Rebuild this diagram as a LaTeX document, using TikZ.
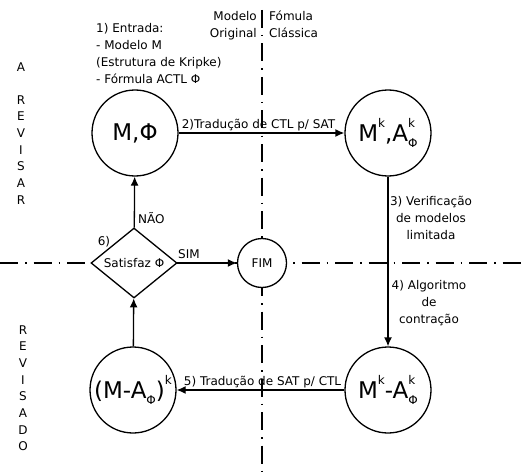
\documentclass[tikz,border=0pt]{standalone}
\usepackage{fontspec}
\setmainfont{DejaVu Sans}
\usetikzlibrary{arrows.meta,shapes.geometric}
\newcommand\smalltxt{\fontsize{12}{17}\selectfont}
\newcommand\bigtxt{\fontsize{23}{26}\selectfont}
\newcommand\ssc[1]{{\fontsize{12}{12}\selectfont #1}}
\newcommand\supsub[2]{\makebox[0pt][l]{\raisebox{0.6em}{\ssc{#1}}}\raisebox{-0.3em}{\ssc{#2}}}
\begin{document}
\begin{tikzpicture}[x=1pt,y=-1pt,
  state/.style={circle,draw,line width=1.3pt,minimum size=86pt,inner sep=0pt,font=\bigtxt},
  lbl/.style={font=\smalltxt,inner sep=1pt},
  flow/.style={line width=1.3pt,-{Latex[length=9pt,width=8pt]}},
  axis/.style={line width=1.1pt,dash pattern=on 18pt off 7pt on 1.5pt off 7pt}]
\useasboundingbox (0,0) rectangle (527,476);
% axes
\coordinate (hl) at (0,263);
\coordinate (hr) at (527,263);
\coordinate (vt) at (262,10);
\coordinate (vb) at (262,472);
\draw[axis] (hl) -- (hr);
\draw[axis] (vt) -- (vb);
% states
\node[state] (mphi) at (135,133) {M,Φ};
\node[state] (mkak) at (388,133) {M\raisebox{0.6em}{\ssc{k}},A\supsub{k}{Φ}};
\node[state] (mkmak) at (388,390) {M\raisebox{0.6em}{\ssc{k}}-A\supsub{k}{Φ}};
\node[state] (mma) at (133,390) {(M-A\raisebox{-0.3em}{\ssc{Φ}})\raisebox{0.6em}{\ssc{k}}};
\node[diamond,draw,line width=1.3pt,aspect=1.2,minimum width=86pt,minimum height=70pt,inner sep=0pt,font=\smalltxt,fill=white] (sat) at (134,263) {Satisfaz Φ};
\node[circle,draw,line width=1.3pt,minimum size=49pt,inner sep=0pt,font=\smalltxt,fill=white] (fim) at (262,263) {FIM};
% arrows
\draw[flow] (mphi) -- (mkak);
\node[lbl,anchor=south west] (l2) at ([xshift=2pt,yshift=1pt]mphi.east) {2)Tradução de CTL p/ SAT};
\draw[flow] (mkak) -- (mkmak);
\draw[flow] (mkmak) -- (mma);
\node[lbl,anchor=south east] (l5) at ([xshift=-2pt,yshift=1pt]mkmak.west) {5) Tradução de SAT p/ CTL};
\draw[flow] (mma) -- (sat);
\draw[flow] (sat) -- (mphi);
\node[lbl,anchor=west] (nao) at (137,218) {NÃO};
\draw[flow] (sat) -- (fim);
\node[lbl] (sim) at (189,254) {SIM};
% labels
\node[lbl,align=center] (l3) at (431,218) {3) Verificação\\de modelos\\limitada};
\node[lbl,align=center] (l4) at (429,303) {4) Algoritmo\\de\\contração};
\node[lbl] (l6) at (104,242) {6)};
\node[lbl,align=left,anchor=north west] (l1) at (95,22) {1) Entrada:\\- Modelo M\\(Estrutura de Kripke)\\- Fórmula ACTL Φ};
\node[lbl,align=right,anchor=north east] (mo) at (258,10) {Modelo\\Original};
\node[lbl,align=left,anchor=north west] (fc) at (268,10) {Fómula\\Clássica};
% vertical words
\node[lbl] (a1) at (21,67) {A};
\foreach \ch [count=\i] in {R,E,V,I,S,A,R}
  \node[lbl] (ar\i) at (21,83+16.7*\i) {\ch};
\foreach \ch [count=\i] in {R,E,V,I,S,A,D,O}
  \node[lbl] (rv\i) at (23,313+16.7*\i) {\ch};
\end{tikzpicture}
\end{document}
